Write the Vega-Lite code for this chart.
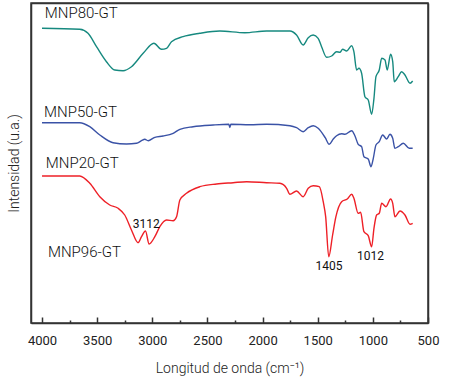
{
  "$schema": "https://vega.github.io/schema/vega-lite/v6.json",
  "width": 397,
  "height": 320,
  "autosize": {"type": "none"},
  "padding": {"left": 31, "top": 3, "right": 25, "bottom": 56},
  "config": {
    "view": {"stroke": "#333", "strokeWidth": 1.5},
    "font": "Roboto",
    "axis": {"labelFont": "Roboto", "titleFont": "Roboto", "labelColor": "#222", "titleColor": "#222", "grid": false, "domainColor": "#333", "tickColor": "#333", "domainWidth": 1.5}
  },
  "resolve": {"axis": {"x": "independent", "y": "independent"}},
  "datasets": {
    "spectra": [
      {"series": "MNP80-GT", "wn": 4000, "v": 294.7},
      {"series": "MNP80-GT", "wn": 3658, "v": 293.7},
      {"series": "MNP80-GT", "wn": 3583, "v": 289.7},
      {"series": "MNP80-GT", "wn": 3506, "v": 276.3},
      {"series": "MNP80-GT", "wn": 3416, "v": 261.3},
      {"series": "MNP80-GT", "wn": 3340, "v": 253},
      {"series": "MNP80-GT", "wn": 3265, "v": 252.3},
      {"series": "MNP80-GT", "wn": 3189, "v": 256.3},
      {"series": "MNP80-GT", "wn": 3083, "v": 269.7},
      {"series": "MNP80-GT", "wn": 2986, "v": 279.7},
      {"series": "MNP80-GT", "wn": 2917, "v": 273.7},
      {"series": "MNP80-GT", "wn": 2871, "v": 274.7},
      {"series": "MNP80-GT", "wn": 2826, "v": 281.3},
      {"series": "MNP80-GT", "wn": 2721, "v": 286.3},
      {"series": "MNP80-GT", "wn": 2569, "v": 289.7},
      {"series": "MNP80-GT", "wn": 2388, "v": 292},
      {"series": "MNP80-GT", "wn": 2161, "v": 290.3},
      {"series": "MNP80-GT", "wn": 1964, "v": 292},
      {"series": "MNP80-GT", "wn": 1752, "v": 292},
      {"series": "MNP80-GT", "wn": 1692, "v": 288},
      {"series": "MNP80-GT", "wn": 1632, "v": 278},
      {"series": "MNP80-GT", "wn": 1586, "v": 285.3},
      {"series": "MNP80-GT", "wn": 1541, "v": 288},
      {"series": "MNP80-GT", "wn": 1496, "v": 284.7},
      {"series": "MNP80-GT", "wn": 1465, "v": 276.3},
      {"series": "MNP80-GT", "wn": 1419, "v": 265.7},
      {"series": "MNP80-GT", "wn": 1374, "v": 267},
      {"series": "MNP80-GT", "wn": 1329, "v": 271.3},
      {"series": "MNP80-GT", "wn": 1299, "v": 270.7},
      {"series": "MNP80-GT", "wn": 1274, "v": 273.7},
      {"series": "MNP80-GT", "wn": 1238, "v": 272},
      {"series": "MNP80-GT", "wn": 1192, "v": 277.3},
      {"series": "MNP80-GT", "wn": 1172, "v": 271.3},
      {"series": "MNP80-GT", "wn": 1147, "v": 253},
      {"series": "MNP80-GT", "wn": 1126, "v": 254.7},
      {"series": "MNP80-GT", "wn": 1102, "v": 249.7},
      {"series": "MNP80-GT", "wn": 1072, "v": 226.3},
      {"series": "MNP80-GT", "wn": 1042, "v": 223},
      {"series": "MNP80-GT", "wn": 1011, "v": 208.7},
      {"series": "MNP80-GT", "wn": 990, "v": 224.7},
      {"series": "MNP80-GT", "wn": 972, "v": 246.3},
      {"series": "MNP80-GT", "wn": 942, "v": 253},
      {"series": "MNP80-GT", "wn": 920, "v": 264.7},
      {"series": "MNP80-GT", "wn": 890, "v": 263},
      {"series": "MNP80-GT", "wn": 870, "v": 253},
      {"series": "MNP80-GT", "wn": 839, "v": 268.7},
      {"series": "MNP80-GT", "wn": 820, "v": 261.3},
      {"series": "MNP80-GT", "wn": 806, "v": 241.3},
      {"series": "MNP80-GT", "wn": 770, "v": 246.3},
      {"series": "MNP80-GT", "wn": 739, "v": 251.3},
      {"series": "MNP80-GT", "wn": 709, "v": 248},
      {"series": "MNP80-GT", "wn": 663, "v": 239.7},
      {"series": "MNP80-GT", "wn": 639, "v": 242},

      {"series": "MNP50-GT", "wn": 4000, "v": 200.3},
      {"series": "MNP50-GT", "wn": 3658, "v": 200.3},
      {"series": "MNP50-GT", "wn": 3567, "v": 196.3},
      {"series": "MNP50-GT", "wn": 3476, "v": 188},
      {"series": "MNP50-GT", "wn": 3356, "v": 180.3},
      {"series": "MNP50-GT", "wn": 3234, "v": 179},
      {"series": "MNP50-GT", "wn": 3143, "v": 179.7},
      {"series": "MNP50-GT", "wn": 3098, "v": 182.3},
      {"series": "MNP50-GT", "wn": 3068, "v": 183.7},
      {"series": "MNP50-GT", "wn": 3038, "v": 182.3},
      {"series": "MNP50-GT", "wn": 2977, "v": 185.7},
      {"series": "MNP50-GT", "wn": 2902, "v": 187},
      {"series": "MNP50-GT", "wn": 2811, "v": 189.7},
      {"series": "MNP50-GT", "wn": 2750, "v": 193.7},
      {"series": "MNP50-GT", "wn": 2630, "v": 196.3},
      {"series": "MNP50-GT", "wn": 2448, "v": 198},
      {"series": "MNP50-GT", "wn": 2306, "v": 198.7},
      {"series": "MNP50-GT", "wn": 2297, "v": 195.5},
      {"series": "MNP50-GT", "wn": 2288, "v": 198.7},
      {"series": "MNP50-GT", "wn": 2115, "v": 198.3},
      {"series": "MNP50-GT", "wn": 1964, "v": 198.7},
      {"series": "MNP50-GT", "wn": 1752, "v": 197.3},
      {"series": "MNP50-GT", "wn": 1692, "v": 195.3},
      {"series": "MNP50-GT", "wn": 1632, "v": 191.3},
      {"series": "MNP50-GT", "wn": 1586, "v": 195.3},
      {"series": "MNP50-GT", "wn": 1541, "v": 197.3},
      {"series": "MNP50-GT", "wn": 1496, "v": 194.7},
      {"series": "MNP50-GT", "wn": 1432, "v": 185.3},
      {"series": "MNP50-GT", "wn": 1396, "v": 178.7},
      {"series": "MNP50-GT", "wn": 1359, "v": 184},
      {"series": "MNP50-GT", "wn": 1329, "v": 187.3},
      {"series": "MNP50-GT", "wn": 1283, "v": 189.3},
      {"series": "MNP50-GT", "wn": 1253, "v": 188.7},
      {"series": "MNP50-GT", "wn": 1192, "v": 192.3},
      {"series": "MNP50-GT", "wn": 1163, "v": 187.3},
      {"series": "MNP50-GT", "wn": 1133, "v": 178.7},
      {"series": "MNP50-GT", "wn": 1102, "v": 176.3},
      {"series": "MNP50-GT", "wn": 1081, "v": 166.3},
      {"series": "MNP50-GT", "wn": 1042, "v": 164},
      {"series": "MNP50-GT", "wn": 1017, "v": 156.3},
      {"series": "MNP50-GT", "wn": 996, "v": 164.7},
      {"series": "MNP50-GT", "wn": 972, "v": 178},
      {"series": "MNP50-GT", "wn": 942, "v": 181.3},
      {"series": "MNP50-GT", "wn": 911, "v": 188},
      {"series": "MNP50-GT", "wn": 875, "v": 184},
      {"series": "MNP50-GT", "wn": 845, "v": 188.7},
      {"series": "MNP50-GT", "wn": 820, "v": 184.7},
      {"series": "MNP50-GT", "wn": 800, "v": 174.7},
      {"series": "MNP50-GT", "wn": 770, "v": 176.3},
      {"series": "MNP50-GT", "wn": 724, "v": 179.7},
      {"series": "MNP50-GT", "wn": 670, "v": 174.7},
      {"series": "MNP50-GT", "wn": 639, "v": 174.7},

      {"series": "MNP96-GT", "wn": 4000, "v": 147},
      {"series": "MNP96-GT", "wn": 3658, "v": 147},
      {"series": "MNP96-GT", "wn": 3567, "v": 139.7},
      {"series": "MNP96-GT", "wn": 3476, "v": 126.3},
      {"series": "MNP96-GT", "wn": 3386, "v": 118},
      {"series": "MNP96-GT", "wn": 3310, "v": 114.7},
      {"series": "MNP96-GT", "wn": 3250, "v": 108},
      {"series": "MNP96-GT", "wn": 3189, "v": 93},
      {"series": "MNP96-GT", "wn": 3129, "v": 80.3},
      {"series": "MNP96-GT", "wn": 3098, "v": 86.3},
      {"series": "MNP96-GT", "wn": 3062, "v": 92},
      {"series": "MNP96-GT", "wn": 3029, "v": 79},
      {"series": "MNP96-GT", "wn": 2977, "v": 86.3},
      {"series": "MNP96-GT", "wn": 2932, "v": 96.3},
      {"series": "MNP96-GT", "wn": 2871, "v": 103},
      {"series": "MNP96-GT", "wn": 2811, "v": 102.3},
      {"series": "MNP96-GT", "wn": 2780, "v": 106.3},
      {"series": "MNP96-GT", "wn": 2750, "v": 123},
      {"series": "MNP96-GT", "wn": 2690, "v": 129.7},
      {"series": "MNP96-GT", "wn": 2569, "v": 136.3},
      {"series": "MNP96-GT", "wn": 2417, "v": 139},
      {"series": "MNP96-GT", "wn": 2267, "v": 140.3},
      {"series": "MNP96-GT", "wn": 2145, "v": 141.3},
      {"series": "MNP96-GT", "wn": 1964, "v": 140.3},
      {"series": "MNP96-GT", "wn": 1843, "v": 139.7},
      {"series": "MNP96-GT", "wn": 1782, "v": 134.7},
      {"series": "MNP96-GT", "wn": 1752, "v": 128.7},
      {"series": "MNP96-GT", "wn": 1692, "v": 132},
      {"series": "MNP96-GT", "wn": 1632, "v": 126.3},
      {"series": "MNP96-GT", "wn": 1586, "v": 134.7},
      {"series": "MNP96-GT", "wn": 1541, "v": 137.3},
      {"series": "MNP96-GT", "wn": 1486, "v": 136.3},
      {"series": "MNP96-GT", "wn": 1450, "v": 121.3},
      {"series": "MNP96-GT", "wn": 1428, "v": 106.3},
      {"series": "MNP96-GT", "wn": 1400, "v": 66.3},
      {"series": "MNP96-GT", "wn": 1365, "v": 88},
      {"series": "MNP96-GT", "wn": 1335, "v": 106.3},
      {"series": "MNP96-GT", "wn": 1283, "v": 121.3},
      {"series": "MNP96-GT", "wn": 1232, "v": 124},
      {"series": "MNP96-GT", "wn": 1192, "v": 128.7},
      {"series": "MNP96-GT", "wn": 1172, "v": 124.7},
      {"series": "MNP96-GT", "wn": 1133, "v": 109.7},
      {"series": "MNP96-GT", "wn": 1111, "v": 110.7},
      {"series": "MNP96-GT", "wn": 1081, "v": 91.3},
      {"series": "MNP96-GT", "wn": 1042, "v": 87.3},
      {"series": "MNP96-GT", "wn": 1011, "v": 76.3},
      {"series": "MNP96-GT", "wn": 990, "v": 94.7},
      {"series": "MNP96-GT", "wn": 966, "v": 108},
      {"series": "MNP96-GT", "wn": 942, "v": 109.7},
      {"series": "MNP96-GT", "wn": 920, "v": 119.7},
      {"series": "MNP96-GT", "wn": 881, "v": 116.3},
      {"series": "MNP96-GT", "wn": 839, "v": 124},
      {"series": "MNP96-GT", "wn": 820, "v": 119.7},
      {"series": "MNP96-GT", "wn": 800, "v": 106.3},
      {"series": "MNP96-GT", "wn": 754, "v": 112},
      {"series": "MNP96-GT", "wn": 709, "v": 108},
      {"series": "MNP96-GT", "wn": 663, "v": 98.7},
      {"series": "MNP96-GT", "wn": 639, "v": 99.7}
    ],
    "names": [
      {"label": "MNP80-GT", "wn": 3975, "v": 304.7},
      {"label": "MNP50-GT", "wn": 3982, "v": 206.3},
      {"label": "MNP20-GT", "wn": 3966, "v": 154.7},
      {"label": "MNP96-GT", "wn": 3946, "v": 65.7}
    ],
    "peaks": [
      {"label": "3112", "wn": 3054, "v": 94.7},
      {"label": "1405", "wn": 1397, "v": 53},
      {"label": "1012", "wn": 1022, "v": 63}
    ]
  },
  "layer": [
    {
      "data": {"name": "spectra"},
      "mark": {"type": "line", "strokeWidth": 1.4, "interpolate": "monotone"},
      "encoding": {
        "x": {
          "field": "wn", "type": "quantitative",
          "scale": {"domain": [500, 4100], "reverse": true, "nice": false, "zero": false},
          "axis": {
            "orient": "bottom",
            "title": "Longitud de onda (cm⁻¹)",
            "titleFontSize": 14, "titleFontWeight": 300, "titlePadding": 14,
            "values": [4000, 3500, 3000, 2500, 2000, 1500, 1000, 500],
            "format": "d",
            "labelFontSize": 13, "labelPadding": 17, "labelOverlap": false, "labelFlush": false,
            "ticks": true, "tickSize": -6, "tickWidth": 1.5
          }
        },
        "y": {
          "field": "v", "type": "quantitative",
          "scale": {"domain": [0, 320], "nice": false, "zero": false},
          "axis": {"orient": "left", "title": "Intensidad (u.a.)", "labels": false, "ticks": false, "domain": true, "titleFontSize": 14, "titleFontWeight": 300, "titlePadding": 10}
        },
        "color": {
          "field": "series", "type": "nominal", "legend": null,
          "scale": {"domain": ["MNP80-GT", "MNP50-GT", "MNP96-GT"], "range": ["#16897f", "#3a52a6", "#ee2027"]}
        }
      }
    },
    {
      "data": {"name": "names"},
      "mark": {"type": "text", "align": "left", "baseline": "alphabetic", "fontSize": 15, "font": "Roboto", "fontWeight": 300, "color": "#111"},
      "encoding": {
        "x": {
          "field": "wn", "type": "quantitative",
          "axis": {"orient": "bottom", "title": null, "labels": false, "domain": false, "values": [3750, 3250, 2750, 2250, 1750, 1250, 750], "ticks": true, "tickSize": -3, "tickWidth": 1.5}
        },
        "y": {
          "field": "v", "type": "quantitative",
          "axis": {"orient": "right", "title": null, "labels": false, "ticks": false, "domain": true}
        },
        "text": {"field": "label"}
      }
    },
    {
      "data": {"name": "peaks"},
      "mark": {"type": "text", "align": "center", "baseline": "alphabetic", "fontSize": 12, "font": "Roboto", "color": "#111"},
      "encoding": {
        "x": {
          "field": "wn", "type": "quantitative",
          "axis": {"orient": "top", "title": null, "labels": false, "ticks": false, "domain": true}
        },
        "y": {"field": "v", "type": "quantitative", "axis": null},
        "text": {"field": "label"}
      }
    }
  ]
}
